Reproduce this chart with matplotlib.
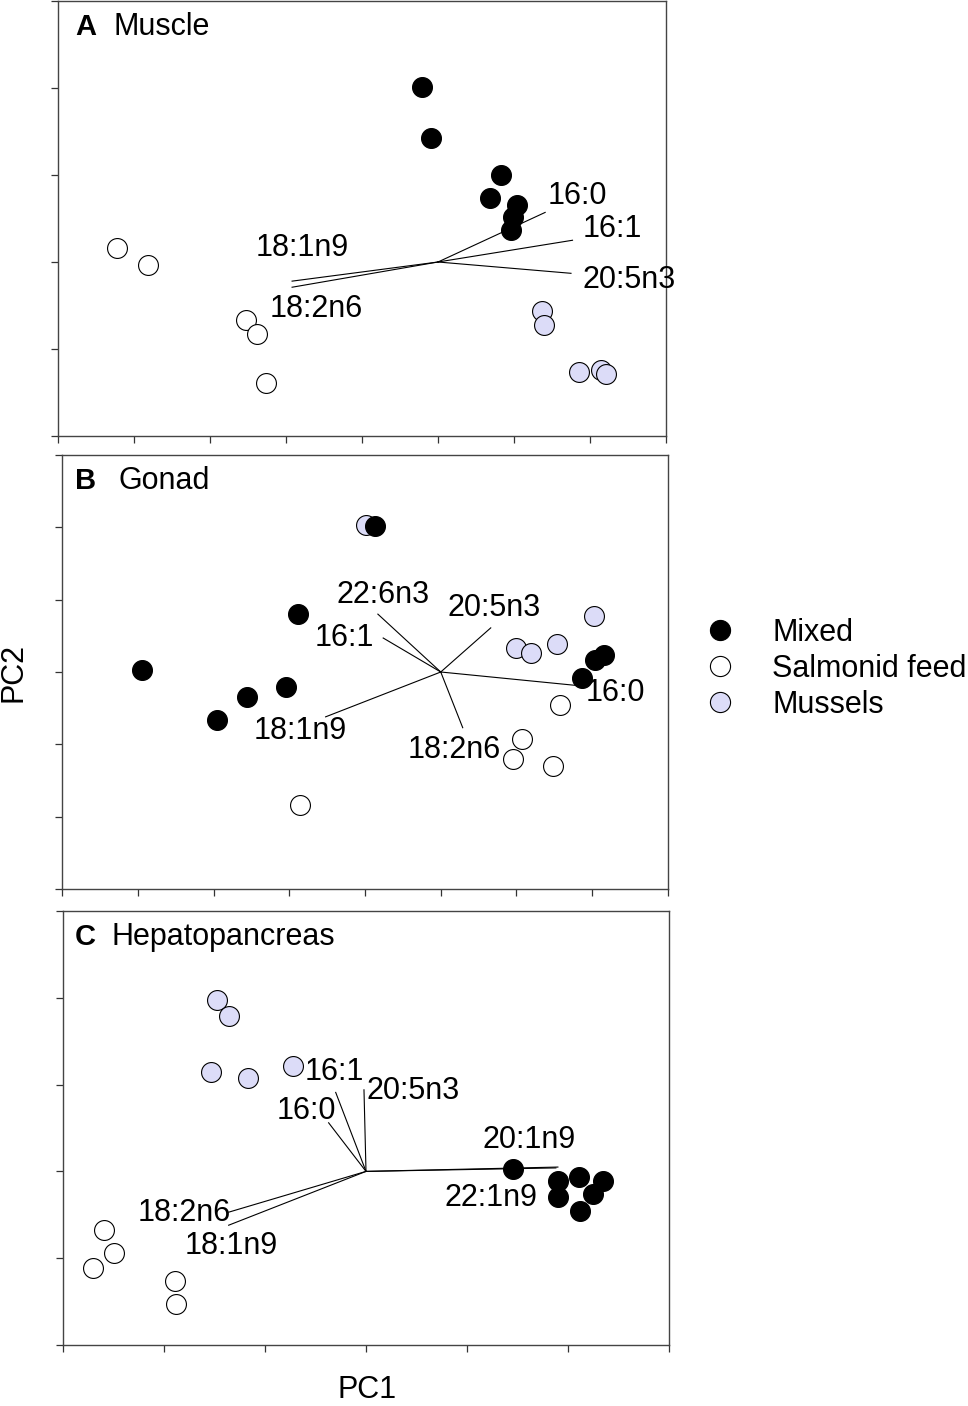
import matplotlib
matplotlib.use("Agg")
import matplotlib.pyplot as plt
from matplotlib.lines import Line2D

plt.rcParams['font.family'] = ['Liberation Sans', 'DejaVu Sans']

# ---- data (PC scores) ----
# A  Muscle
a_mixed_x = [-0.21, -0.09, 0.83, 0.68, 1.04, 0.99, 0.96]
a_mixed_y = [2.01, 1.43, 1.00, 0.74, 0.66, 0.52, 0.37]
a_salm_x = [-4.22, -3.81, -2.52, -2.38, -2.26]
a_salm_y = [0.16, -0.03, -0.67, -0.83, -1.39]
a_muss_x = [1.37, 1.39, 1.86, 2.14, 2.21]
a_muss_y = [-0.56, -0.72, -1.26, -1.24, -1.29]
a_vec_names = ['16:0', '16:1', '20:5n3', '18:1n9', '18:2n6']
a_vec_x = [1.41, 1.77, 1.75, -1.92, -1.92]
a_vec_y = [0.57, 0.25, -0.13, -0.22, -0.29]

# B  Gonad
b_mixed_x = [-3.95, -2.95, -2.56, -2.04, -1.88, -0.87, 1.86, 2.04, 2.15]
b_mixed_y = [0.03, -0.66, -0.35, -0.21, 0.80, 2.02, -0.08, 0.17, 0.23]
b_salm_x = [-1.86, 1.58, 1.07, 0.95, 1.48]
b_salm_y = [-1.84, -0.46, -0.93, -1.20, -1.30]
b_muss_x = [-0.99, 2.02, 1.53, 1.00, 1.19]
b_muss_y = [2.03, 0.77, 0.39, 0.33, 0.26]
b_vec_names = ['22:6n3', '16:1', '20:5n3', '16:0', '18:1n9', '18:2n6']
b_vec_x = [-0.83, -0.76, 0.66, 1.83, -1.52, 0.29]
b_vec_y = [0.80, 0.47, 0.61, -0.19, -0.62, -0.77]

# C  Hepatopancreas
c_mixed_x = [1.46, 1.90, 2.11, 2.35, 1.90, 2.25, 2.12]
c_mixed_y = [0.03, -0.11, -0.07, -0.11, -0.29, -0.26, -0.46]
c_salm_x = [-2.59, -2.50, -2.70, -1.89, -1.88]
c_salm_y = [-0.68, -0.94, -1.11, -1.26, -1.53]
c_muss_x = [-1.48, -1.36, -1.53, -1.17, -0.72]
c_muss_y = [1.97, 1.79, 1.15, 1.08, 1.22]
c_vec_names = ['16:1', '20:5n3', '16:0', '20:1n9', '22:1n9', '18:2n6', '18:1n9']
c_vec_x = [-0.30, -0.02, -0.37, 1.90, 1.88, -1.36, -1.36]
c_vec_y = [0.91, 0.94, 0.56, 0.05, 0.04, -0.47, -0.62]

groups = ['Mixed', 'Salmonid feed', 'Mussels']
fills = ['black', 'white', '#DCDCF8']

# ---- layout ----
FS = 22
fig = plt.figure(figsize=(9.68, 14.06), dpi=100)
W, H = 968.0, 1406.0


def make_ax(l, r, t, b):
    return fig.add_axes([l / W, 1 - b / H, (r - l) / W, (b - t) / H])


def style(ax, xlim, ylim):
    ax.set_xlim(*xlim)
    ax.set_ylim(*ylim)
    ax.set_xticks(range(xlim[0], xlim[1] + 1))
    ax.set_yticks(range(ylim[0], ylim[1] + 1))
    ax.set_xticklabels([])
    ax.set_yticklabels([])
    ax.tick_params(direction='out', length=5, width=0.9, color='#333333')
    for s in ax.spines.values():
        s.set_color('#444444')
        s.set_linewidth(1.0)


def panel(ax, mixed, salm, muss, vnames, vx, vy, offs):
    for (vxi, vyi) in zip(vx, vy):
        ax.plot([0, vxi], [0, vyi], color='black', lw=0.8, zorder=2)
    for (xs, ys), fc in zip([salm, muss, mixed], [fills[1], fills[2], fills[0]]):
        ax.scatter(xs, ys, s=205, facecolor=fc, edgecolor='black',
                   linewidth=0.8, zorder=3)
    for name, vxi, vyi, (dx, dy, ha) in zip(vnames, vx, vy, offs):
        ax.annotate(name, (vxi, vyi), xytext=(dx, dy),
                    textcoords='offset pixels', ha=ha, va='center',
                    fontsize=FS, zorder=4)


def title(ax, letter, name, dx_letter, dx_name):
    ax.annotate(letter, (0, 1), xycoords='axes fraction', xytext=(dx_letter, -26),
                textcoords='offset pixels', ha='left', va='center',
                fontsize=FS - 1, fontweight='bold')
    ax.annotate(name, (0, 1), xycoords='axes fraction', xytext=(dx_name, -26),
                textcoords='offset pixels', ha='left', va='center', fontsize=FS)


axA = make_ax(58, 666, 1, 436)
style(axA, (-5, 3), (-2, 3))
panel(axA, (a_mixed_x, a_mixed_y), (a_salm_x, a_salm_y), (a_muss_x, a_muss_y),
      a_vec_names, a_vec_x, a_vec_y,
      [(2, 16, 'left'), (10, 11, 'left'), (12, -7, 'left'),
       (10, 33, 'center'), (-22, -22, 'left')])
title(axA, 'A', 'Muscle', 17, 56)

axB = make_ax(62, 668, 455, 889)
style(axB, (-5, 3), (-3, 3))
panel(axB, (b_mixed_x, b_mixed_y), (b_salm_x, b_salm_y), (b_muss_x, b_muss_y),
      b_vec_names, b_vec_x, b_vec_y,
      [(-41, 19, 'left'), (-9, 0, 'right'), (3, 20, 'center'),
       (6, -7, 'left'), (-72, -14, 'left'), (-55, -22, 'left')])
title(axB, 'B', 'Gonad', 13, 56)

axC = make_ax(63, 669, 911, 1345)
style(axC, (-3, 3), (-2, 3))
panel(axC, (c_mixed_x, c_mixed_y), (c_salm_x, c_salm_y), (c_muss_x, c_muss_y),
      c_vec_names, c_vec_x, c_vec_y,
      [(-31, 20, 'left'), (3, -1, 'left'), (-52, 12, 'left'),
       (-75, 27, 'left'), (-111, -30, 'left'), (2, -1, 'right'),
       (-44, -21, 'left')])
title(axC, 'C', 'Hepatopancreas', 12, 48)

fig.text(14 / W, 1 - 672 / H, 'PC2', rotation=90, ha='center', va='center', fontsize=FS)
fig.text(367 / W, 1 - 1390 / H, 'PC1', ha='center', va='center', fontsize=FS)

handles = [Line2D([], [], ls='none', marker='o', markersize=14.5,
                  markerfacecolor=fc, markeredgecolor='black', markeredgewidth=0.8)
           for fc in fills]
fig.legend(handles, groups, loc='center left', bbox_to_anchor=(689 / W, 1 - 669 / H),
           frameon=False, fontsize=FS, handletextpad=0.73, labelspacing=0.2,
           borderpad=0, borderaxespad=0, handlelength=2)

fig.savefig('out.png', dpi=100)
